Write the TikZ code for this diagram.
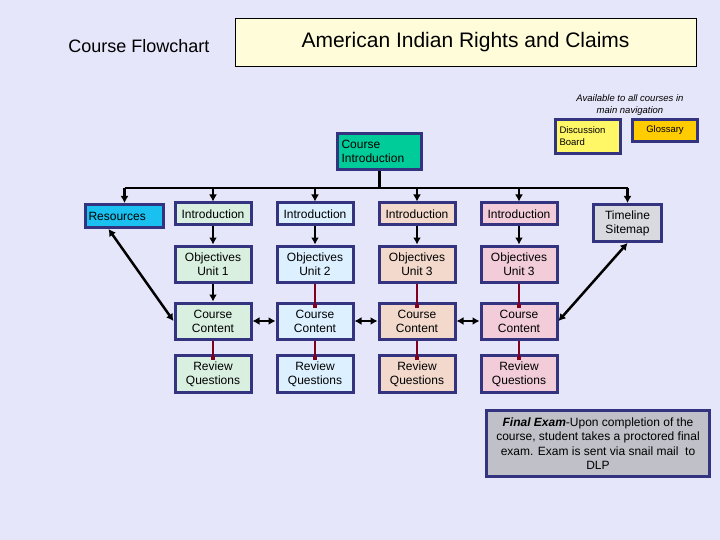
\documentclass[tikz,border=0pt]{standalone}
\usepackage{fontspec}
\setmainfont{Liberation Sans}
\usetikzlibrary{arrows.meta}
\definecolor{bg}{HTML}{E6E6FA}
\definecolor{bord}{HTML}{333380}
\definecolor{cA}{HTML}{D9F0E0}
\definecolor{cB}{HTML}{DDF0FF}
\definecolor{cC}{HTML}{F2D9CC}
\definecolor{cD}{HTML}{F2CCD9}
\definecolor{dred}{HTML}{800020}
\begin{document}
\begin{tikzpicture}[x=1pt,y=-1pt,
  bx/.style={draw=bord,line width=3pt,minimum width=76pt,minimum height=#1,align=center,font=\fontsize{12}{14}\selectfont,inner sep=1pt},
  bx/.default=20pt,
  arr/.style={line width=2.5pt,-{Latex[length=7pt,width=8pt]}},
  darr/.style={line width=2.5pt,{Latex[length=7pt,width=8pt]}-{Latex[length=7pt,width=8pt]}},
  rl/.style={line width=2.5pt,dred,-{Square[length=4pt,width=4pt]}}]
\fill[bg] (0,0) rectangle (720,540);
\useasboundingbox (0,0) rectangle (720,540);
\node[font=\fontsize{18}{21}\selectfont] (cf) at (139,46) {Course Flowchart};
\node[draw=black,line width=0.6pt,fill=yellow!15,minimum width=461pt,minimum height=48pt,font=\fontsize{21}{25}\selectfont] (title) at (465.5,42) {American Indian Rights and Claims};
\node[font=\itshape\fontsize{9.5}{12}\selectfont,align=center] (avail) at (630,105) {Available to all courses in\\main navigation};
\node[bx=34pt,fill=yellow!60,minimum width=65pt,align=left,font=\fontsize{9.5}{12}\selectfont,anchor=north west,text width=57pt] (disc) at (554,118) {Discussion\\Board};
\node[bx=22pt,fill={rgb,255:red,255;green,204;blue,0},minimum width=65pt,font=\fontsize{9.5}{12}\selectfont,anchor=north west] (glos) at (631,118) {Glossary};
\node[bx=36pt,fill={rgb,255:red,0;green,204;blue,153},minimum width=84pt,align=left,text width=76pt,anchor=north west] (ci) at (336,132) {Course\\Introduction};
\node[bx=23pt,fill={rgb,255:red,25;green,192;blue,240},anchor=north west,minimum width=78pt,align=left,text width=72pt] (res) at (84,203) {Resources};
\node[bx=37pt,fill={rgb,255:red,217;green,217;blue,224},minimum width=68pt,anchor=north west] (tl) at (592,203) {Timeline\\Sitemap};
\foreach \i/\x/\c/\u in {1/213/cA/1,2/315/cB/2,3/417/cC/3,4/519/cD/3}{
  \node[bx=22pt,fill=\c] (i\i) at (\x,214) {Introduction};
  \node[bx=36pt,fill=\c] (o\i) at (\x,264) {Objectives\\Unit \u};
  \node[bx=36pt,fill=\c] (c\i) at (\x,321) {Course\\Content};
  \node[bx=37pt,fill=\c] (r\i) at (\x,374) {Review\\Questions};
}
\coordinate (bus) at (378,188);
\draw[line width=2.5pt] (ci.south) -- (ci.south |- bus);
\draw[line width=2.5pt] (res.north |- bus) -- (tl.north |- bus);
\foreach \n in {res,i1,i2,i3,i4,tl} \draw[arr] (\n.north |- bus) -- (\n.north);
\foreach \i in {1,2,3,4} \draw[arr] (i\i) -- (o\i);
\draw[arr] (o1) -- (c1);
\foreach \i in {2,3,4} \draw[rl] (o\i.south) -- ([yshift=-6pt]c\i.north);
\foreach \i in {1,2,3,4} \draw[rl] (c\i.south) -- ([yshift=-6pt]r\i.north);
\draw[darr] (c1) -- (c2);
\draw[darr] (c2) -- (c3);
\draw[darr] (c3) -- (c4);
\draw[darr] ([xshift=-16pt]res.south) -- (c1.west);
\draw[darr] (tl.south) -- (c4.east);
\node[draw=bord,line width=3pt,fill={rgb,255:red,192;green,192;blue,200},minimum width=223pt,minimum height=66pt,align=center,font=\fontsize{12}{14.5}\selectfont,anchor=north west] (fe) at (485,409) {\textbf{\textit{Final Exam}}-Upon completion of the\\course, student takes a proctored final\\exam. Exam is sent via snail mail\ \ to\\DLP};
\end{tikzpicture}
\end{document}
